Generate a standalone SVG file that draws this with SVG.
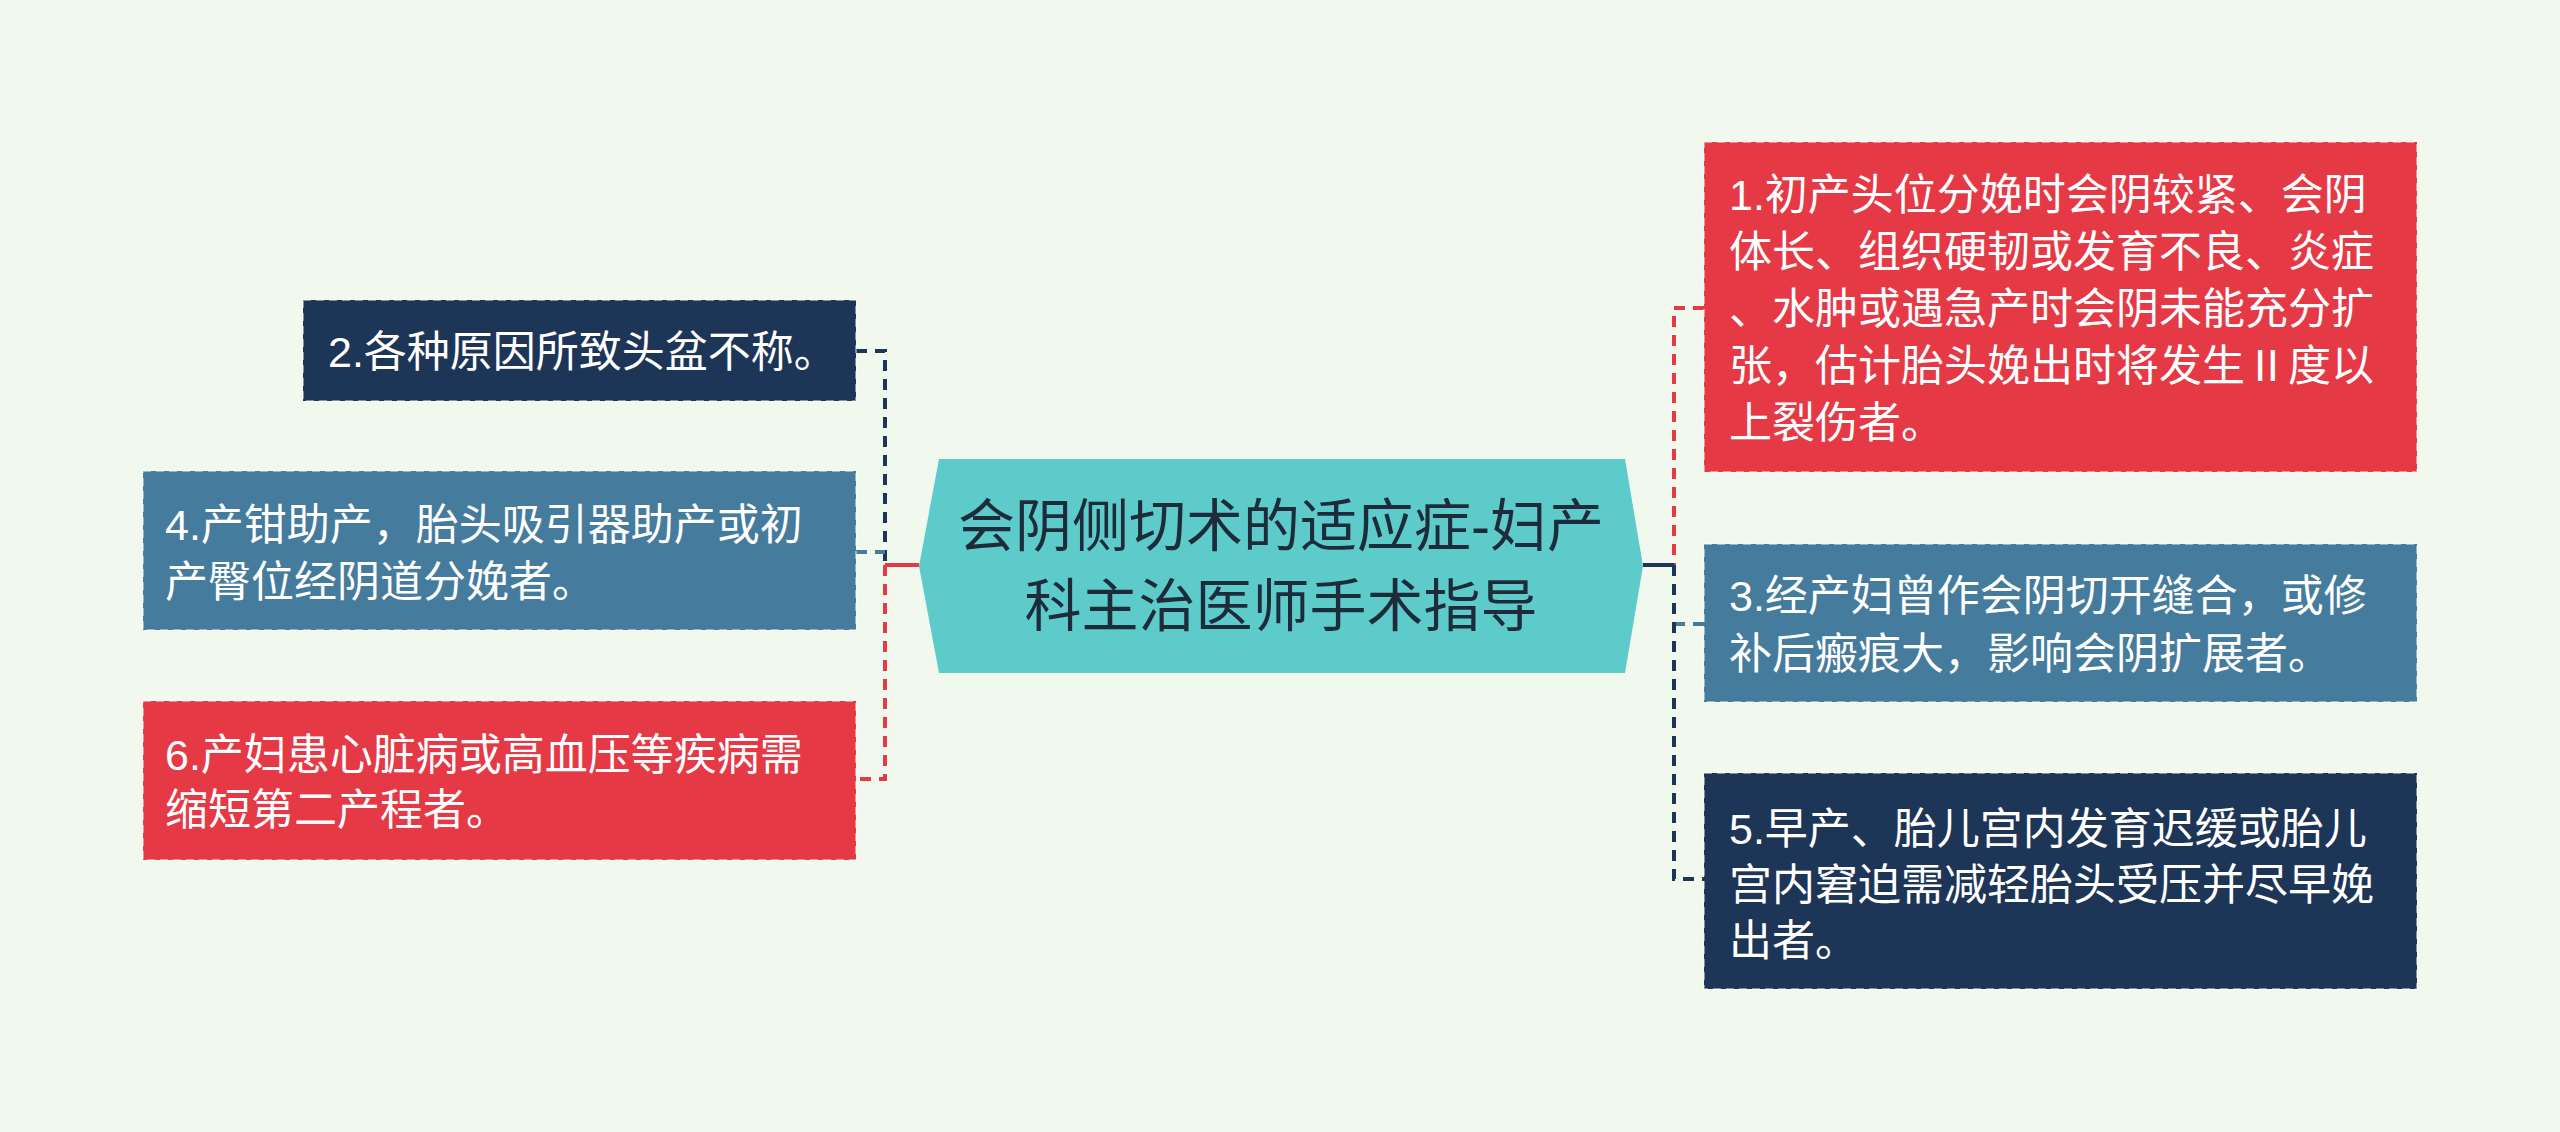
<svg xmlns="http://www.w3.org/2000/svg" width="2560" height="1132" viewBox="0 0 2560 1132">
<style>
.t{font-family:"Liberation Sans","Noto Sans CJK SC",sans-serif;font-size:43px;fill:#fff;dominant-baseline:central}
.c{font-family:"Liberation Sans","Noto Sans CJK SC",sans-serif;font-size:57px;fill:#1d2b3a;dominant-baseline:central;text-anchor:middle}
.b{stroke:#fff;stroke-opacity:0.45;stroke-width:2;stroke-dasharray:8 5}
.red{fill:#e63946}.blue{fill:#457b9d}.navy{fill:#1d3557}
.l{fill:none;stroke-width:4;stroke-dasharray:11 8}
</style>
<rect width="2560" height="1132" fill="#f1f9ef"/>
<g id="connectors">
<path class="l" stroke="#1d3557" d="M856 351 H885 V565"/>
<path class="l" stroke="#457b9d" d="M856 552 H885"/>
<path class="l" stroke="#e63946" d="M885 565 V779 H856"/>
<path fill="none" stroke="#e63946" stroke-width="4" d="M885 565 H919"/>
<path class="l" stroke="#e63946" d="M1704 308 H1674 V565"/>
<path class="l" stroke="#457b9d" d="M1704 624 H1674"/>
<path class="l" stroke="#1d3557" d="M1674 565 V879 H1704"/>
<path fill="none" stroke="#1d3557" stroke-width="4" d="M1643 565 H1674"/>
</g>
<g id="center">
<polygon points="919,566 939,459 1625,459 1643,566 1625,673 939,673" fill="#5ecbcb"/>
<text class="c" x="1281" y="526">会阴侧切术的适应症-妇产</text>
<text class="c" x="1281" y="606">科主治医师手术指导</text>
</g>
<g id="n2"><rect class="navy b" x="303" y="300" width="553" height="101"/>
<text class="t" x="328" y="352">2.各种原因所致头盆不称。</text></g>
<g id="n4"><rect class="blue b" x="143" y="471" width="713" height="159"/>
<text class="t" x="165" y="525">4.产钳助产，胎头吸引器助产或初</text>
<text class="t" x="165" y="582">产臀位经阴道分娩者。</text></g>
<g id="n6"><rect class="red b" x="143" y="701" width="713" height="159"/>
<text class="t" x="165" y="755">6.产妇患心脏病或高血压等疾病需</text>
<text class="t" x="165" y="810">缩短第二产程者。</text></g>
<g id="n1"><rect class="red b" x="1704" y="142" width="713" height="330"/>
<text class="t" x="1729" y="195">1.初产头位分娩时会阴较紧、会阴</text>
<text class="t" x="1729" y="252">体长、组织硬韧或发育不良、炎症</text>
<text class="t" x="1729" y="309">、水肿或遇急产时会阴未能充分扩</text>
<text class="t" x="1729" y="366">张，估计胎头娩出时将发生Ⅱ度以</text>
<text class="t" x="1729" y="423">上裂伤者。</text></g>
<g id="n3"><rect class="blue b" x="1704" y="544" width="713" height="158"/>
<text class="t" x="1729" y="596">3.经产妇曾作会阴切开缝合，或修</text>
<text class="t" x="1729" y="654">补后瘢痕大，影响会阴扩展者。</text></g>
<g id="n5"><rect class="navy b" x="1704" y="773" width="713" height="216"/>
<text class="t" x="1729" y="829">5.早产、胎儿宫内发育迟缓或胎儿</text>
<text class="t" x="1729" y="885">宫内窘迫需减轻胎头受压并尽早娩</text>
<text class="t" x="1729" y="941">出者。</text></g>
</svg>
